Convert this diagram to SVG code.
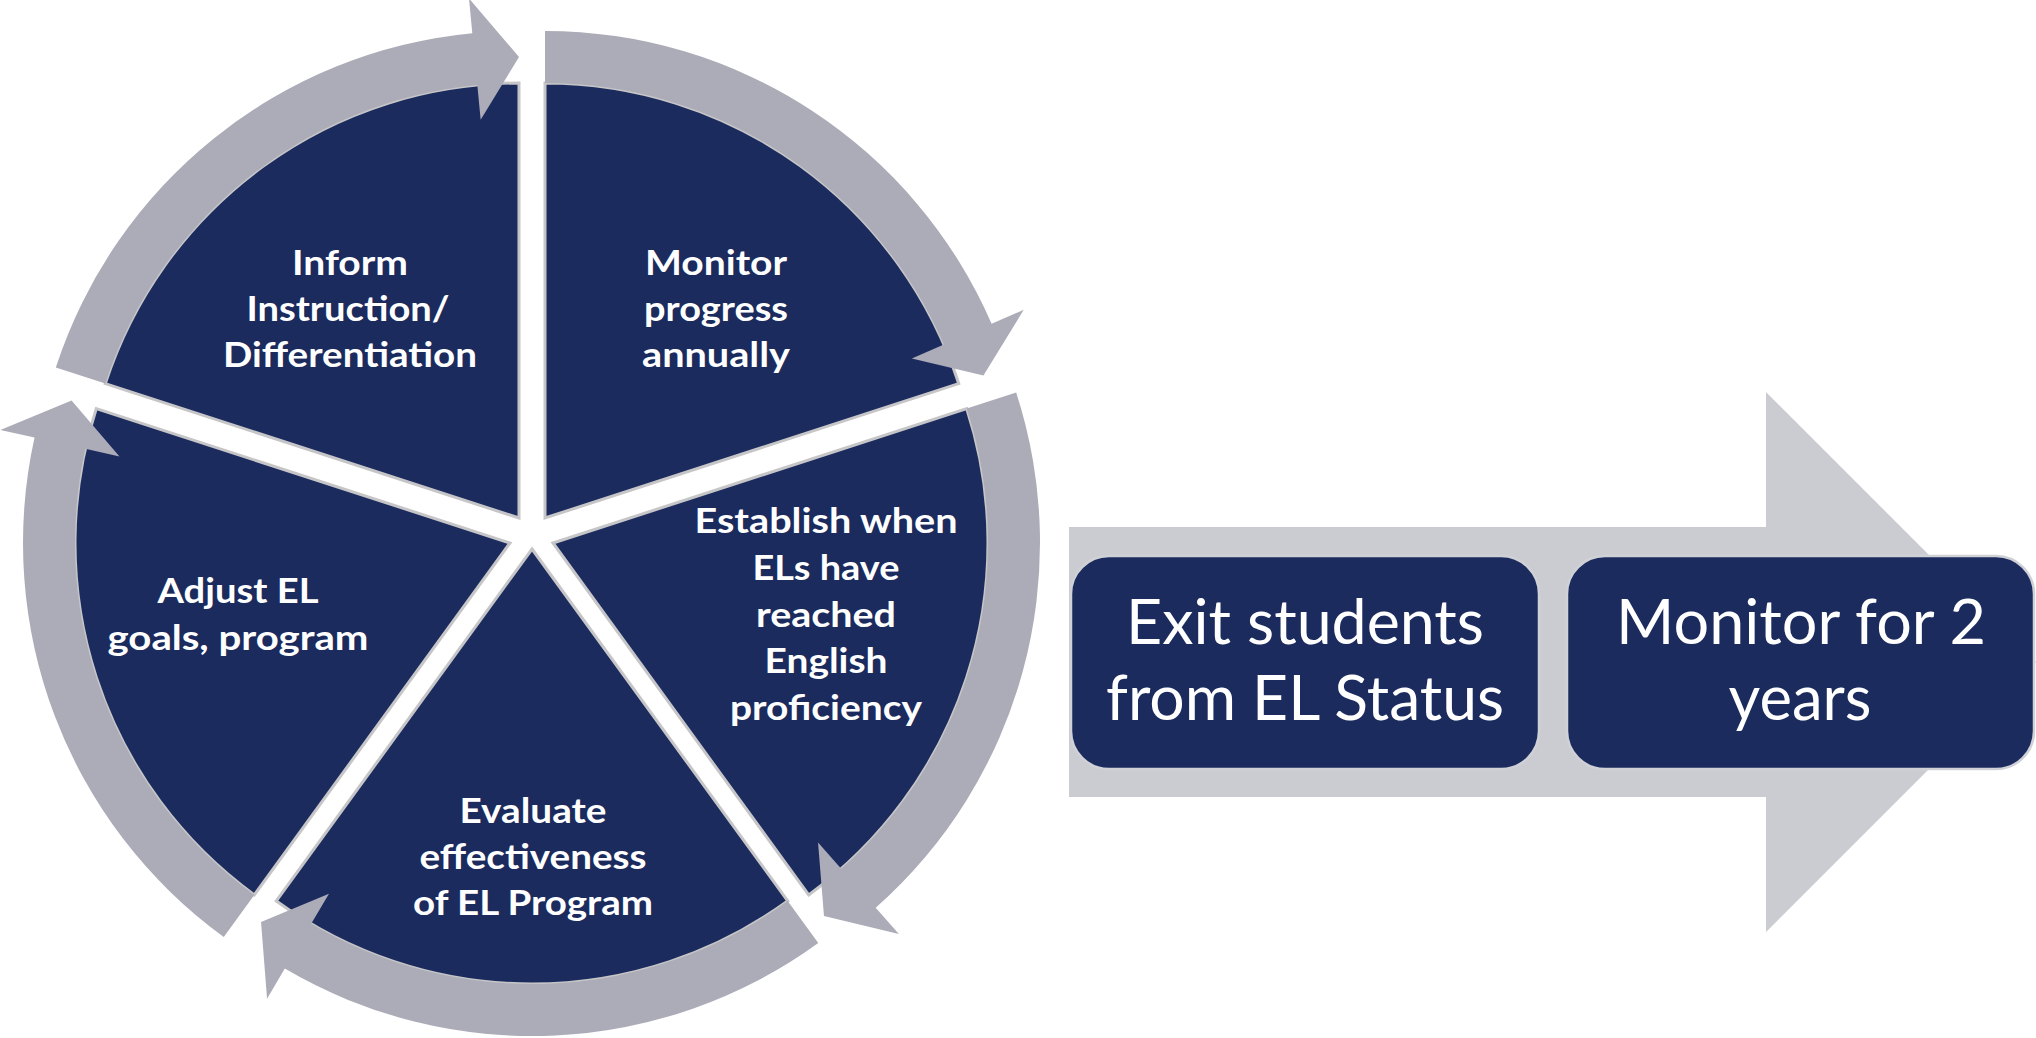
<svg xmlns="http://www.w3.org/2000/svg" width="2036" height="1038" viewBox="0 0 2036 1038">
  <style>
    .wedge { fill: #1b2b5e; stroke: #c6c6c8; stroke-width: 3; stroke-linejoin: miter; }
    .ring { fill: #acacb8; stroke: none; }
    .pie-label { font-family: "Lato", "Liberation Sans", sans-serif; font-weight: bold; font-size: 34px; fill: #ffffff; text-anchor: middle; }
    .box { fill: #1b2b5e; stroke: #d0d1d6; stroke-width: 2.5; }
    .box-label { font-family: "Lato", "Liberation Sans", sans-serif; font-size: 61px; fill: #ffffff; text-anchor: middle; }
    .flow { fill: #cbccd1; }
  </style>

  <rect width="2036" height="1038" fill="#ffffff"/>

  <!-- Cycle: five exploded sectors, each offset along its bisector -->
  <g id="node-inform">
    <path class="wedge" d="M519,518 L105.29,383.58 A435,435 0 0 1 519,83 Z"/>
    <text class="pie-label" x="350" y="275" textLength="116" lengthAdjust="spacingAndGlyphs">Inform</text>
    <text class="pie-label" x="348" y="321" textLength="203" lengthAdjust="spacingAndGlyphs">Instruction/</text>
    <text class="pie-label" x="350" y="367" textLength="254" lengthAdjust="spacingAndGlyphs">Differentiation</text>
  </g>

  <g id="node-monitor">
    <path class="wedge" d="M545,518 L545,83 A435,435 0 0 1 958.71,383.58 Z"/>
    <text class="pie-label" x="716" y="275" textLength="142" lengthAdjust="spacingAndGlyphs">Monitor</text>
    <text class="pie-label" x="716" y="321" textLength="144" lengthAdjust="spacingAndGlyphs">progress</text>
    <text class="pie-label" x="716" y="367" textLength="148" lengthAdjust="spacingAndGlyphs">annually</text>
  </g>

  <g id="node-establish">
    <path class="wedge" d="M553,543 L966.71,408.58 A435,435 0 0 1 808.69,894.92 Z"/>
    <text class="pie-label" x="826" y="533" textLength="263" lengthAdjust="spacingAndGlyphs">Establish when</text>
    <text class="pie-label" x="826" y="580" textLength="147" lengthAdjust="spacingAndGlyphs">ELs have</text>
    <text class="pie-label" x="826" y="627" textLength="140" lengthAdjust="spacingAndGlyphs">reached</text>
    <text class="pie-label" x="826" y="673" textLength="123" lengthAdjust="spacingAndGlyphs">English</text>
    <text class="pie-label" x="826" y="720" textLength="192" lengthAdjust="spacingAndGlyphs">proficiency</text>
  </g>

  <g id="node-evaluate">
    <path class="wedge" d="M532,549 L787.69,900.92 A435,435 0 0 1 276.31,900.92 Z"/>
    <text class="pie-label" x="533" y="823" textLength="147" lengthAdjust="spacingAndGlyphs">Evaluate</text>
    <text class="pie-label" x="533" y="869" textLength="227" lengthAdjust="spacingAndGlyphs">effectiveness</text>
    <text class="pie-label" x="533" y="915" textLength="240" lengthAdjust="spacingAndGlyphs">of EL Program</text>
  </g>

  <g id="node-adjust">
    <path class="wedge" d="M510,543 L254.31,894.92 A435,435 0 0 1 96.29,408.58 Z"/>
    <text class="pie-label" x="238" y="603" textLength="161" lengthAdjust="spacingAndGlyphs">Adjust EL</text>
    <text class="pie-label" x="238" y="650" textLength="261" lengthAdjust="spacingAndGlyphs">goals, program</text>
  </g>

  <!-- Curved block arrows running clockwise round the cycle -->
  <g id="connectors">
    <path class="ring" d="M55.83,367.51 A487,487 0 0 1 472.32,33.24 L468.97,-1.6 L519,57 L480.66,119.84 L477.31,85 A435,435 0 0 0 105.29,383.58 Z"/>
    <path class="ring" d="M545,31 A487,487 0 0 1 991.61,323.81 L1023.71,309.85 L983.44,375.54 L911.82,358.5 L943.92,344.54 A435,435 0 0 0 545,83 Z"/>
    <path class="ring" d="M1016.17,392.51 A487,487 0 0 1 875.7,907.74 L898.89,933.96 L823.97,915.96 L818.05,842.58 L841.24,868.8 A435,435 0 0 0 966.71,408.58 Z"/>
    <path class="ring" d="M818.25,942.99 A487,487 0 0 1 284.83,968.61 L267.06,998.77 L261.03,921.96 L328.98,893.65 L311.22,923.81 A435,435 0 0 0 787.69,900.92 Z"/>
    <path class="ring" d="M223.75,936.99 A487,487 0 0 1 34.54,437.59 L0.37,430.02 L71.56,400.54 L119.48,456.42 L85.31,448.85 A435,435 0 0 0 254.31,894.92 Z"/>
  </g>

  <!-- Exit pathway: wide arrow behind two rounded steps -->
  <g id="exit-arrow">
    <path class="flow" d="M1069,527 L1766,527 L1766,392 L2036,662 L1766,932 L1766,797 L1069,797 Z"/>
  </g>

  <g id="node-exit">
    <rect class="box" x="1071" y="556" width="468" height="213" rx="38" ry="38"/>
    <text class="box-label" x="1305" y="644" textLength="358" lengthAdjust="spacingAndGlyphs">Exit students</text>
    <text class="box-label" x="1305" y="720" textLength="398" lengthAdjust="spacingAndGlyphs">from EL Status</text>
  </g>

  <g id="node-monitor-two-years">
    <rect class="box" x="1567" y="556" width="467" height="213" rx="38" ry="38"/>
    <text class="box-label" x="1801" y="644" textLength="370" lengthAdjust="spacingAndGlyphs">Monitor for 2</text>
    <text class="box-label" x="1800" y="720" textLength="143" lengthAdjust="spacingAndGlyphs">years</text>
  </g>
</svg>
